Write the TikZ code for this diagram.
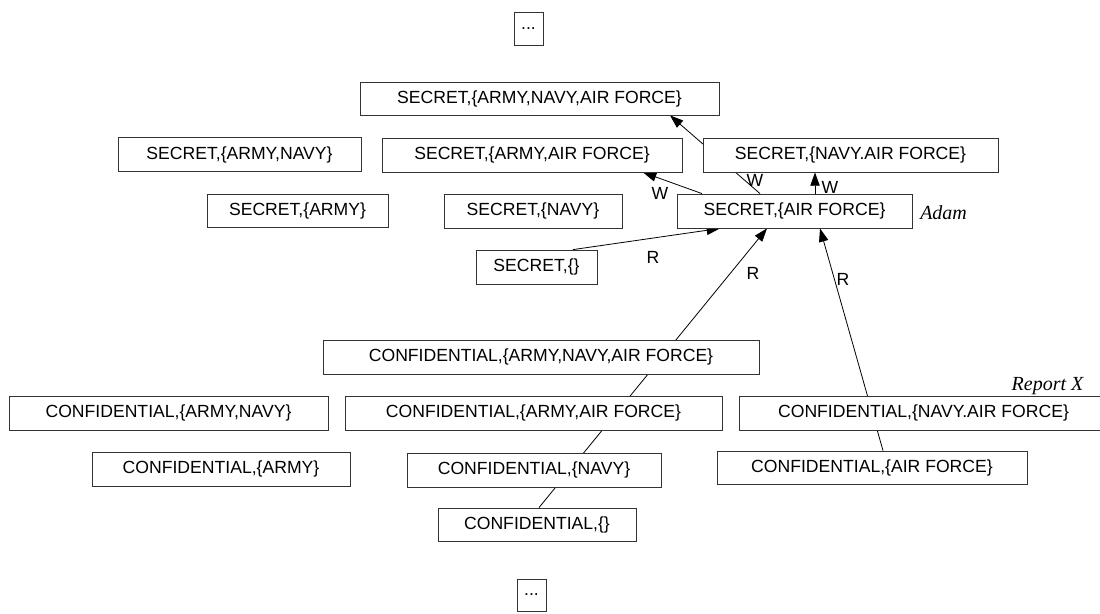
\documentclass[tikz,border=0pt]{standalone}
\usepackage{fontspec}
\setmainfont{Liberation Sans}
\newfontfamily\tnr{Liberation Serif}
\usetikzlibrary{arrows.meta,calc}
\pgfdeclarelayer{bg}
\pgfsetlayers{bg,main}
\begin{document}
\begin{tikzpicture}[x=0.75pt,y=-0.75pt,
  bx/.style 2 args={draw=black!80,line width=0.6pt,fill=white,inner sep=0pt,
    minimum width=#1*0.75pt,minimum height=#2*0.75pt,
    font=\fontsize{13.2}{15}\selectfont},
  lbl/.style={inner sep=0pt,font=\fontsize{13.2}{15}\selectfont},
  itl/.style={inner sep=0pt,font=\tnr\itshape\fontsize{15}{17}\selectfont},
  arr/.style={line width=0.6pt,-{Triangle[length=10pt,width=7pt]}},
  ln/.style={line width=0.6pt}]
\clip (0,0) rectangle (1100,614);
\useasboundingbox (0,0) rectangle (1100,614);
% boxes
\node[bx={29}{33}] (dt) at (528.5,29) {...};
\node[bx={29}{32}] (db) at (531.5,595) {...};
\node[bx={359}{33}] (sANA) at (539.5,98.5) {SECRET,\{ARMY,NAVY,AIR FORCE\}};
\node[bx={243}{34}] (sAN) at (239.5,154.5) {SECRET,\{ARMY,NAVY\}};
\node[bx={300}{34}] (sAA) at (532,155) {SECRET,\{ARMY,AIR FORCE\}};
\node[bx={295}{34}] (sNA) at (850.5,155) {SECRET,\{NAVY.AIR FORCE\}};
\node[bx={181}{33}] (sA) at (297.5,210.5) {SECRET,\{ARMY\}};
\node[bx={178}{34}] (sN) at (533,211) {SECRET,\{NAVY\}};
\node[bx={235}{34}] (sAF) at (794.5,211) {SECRET,\{AIR FORCE\}};
\node[bx={121}{34}] (sE) at (536.5,267) {SECRET,\{\}};
\node[bx={436}{34}] (cANA) at (541,357) {CONFIDENTIAL,\{ARMY,NAVY,AIR FORCE\}};
\node[bx={319}{34}] (cAN) at (168.5,413) {CONFIDENTIAL,\{ARMY,NAVY\}};
\node[bx={377}{34}] (cAA) at (533.5,413) {CONFIDENTIAL,\{ARMY,AIR FORCE\}};
\node[bx={369}{34}] (cNA) at (923.5,413) {CONFIDENTIAL,\{NAVY.AIR FORCE\}};
\node[bx={258}{34}] (cA) at (221,469) {CONFIDENTIAL,\{ARMY\}};
\node[bx={254}{34}] (cN) at (534,470) {CONFIDENTIAL,\{NAVY\}};
\node[bx={310}{33}] (cAF) at (872,467.5) {CONFIDENTIAL,\{AIR FORCE\}};
\node[bx={198}{33}] (cE) at (537,524.5) {CONFIDENTIAL,\{\}};
% side labels
\node[itl,anchor=west] (adam) at (920,213) {Adam};
\node[itl] (rep) at (1047.5,386) {Report X};
% arrow labels
\node[lbl] (r1) at (653,257) {R};
\node[lbl] (r2) at (753,273) {R};
\node[lbl] (r3) at (843,279) {R};
\node[lbl] (w1) at (660,193) {W};
\node[lbl] (w2) at (755,180) {W};
\node[lbl] (w3) at (830,187) {W};
% connectors (behind boxes)
\begin{pgfonlayer}{bg}
\draw[arr] ($(sE.north)+(36.5,0)$) -- ($(sAF.south)+(-74.5,0)$);
\draw[arr] ($(sAF.north)+(-92.5,0)$) -- ($(sAA.south)+(111,0)$);
\draw[arr] ($(sAF.north)+(-34.5,0)$) -- ($(sANA.south)+(130.5,0)$);
\draw[arr] ($(sAF.north)+(20.5,0)$) -- ($(sNA.south)+(-35.5,0)$);
\draw[arr] ($(cE.north)+(2,0)$) -- ($(sAF.south)+(-27.5,0)$);
\draw[arr] ($(cAF.north)+(11,0)$) -- ($(sAF.south)+(25.5,0)$);
\end{pgfonlayer}
\end{tikzpicture}
\end{document}
